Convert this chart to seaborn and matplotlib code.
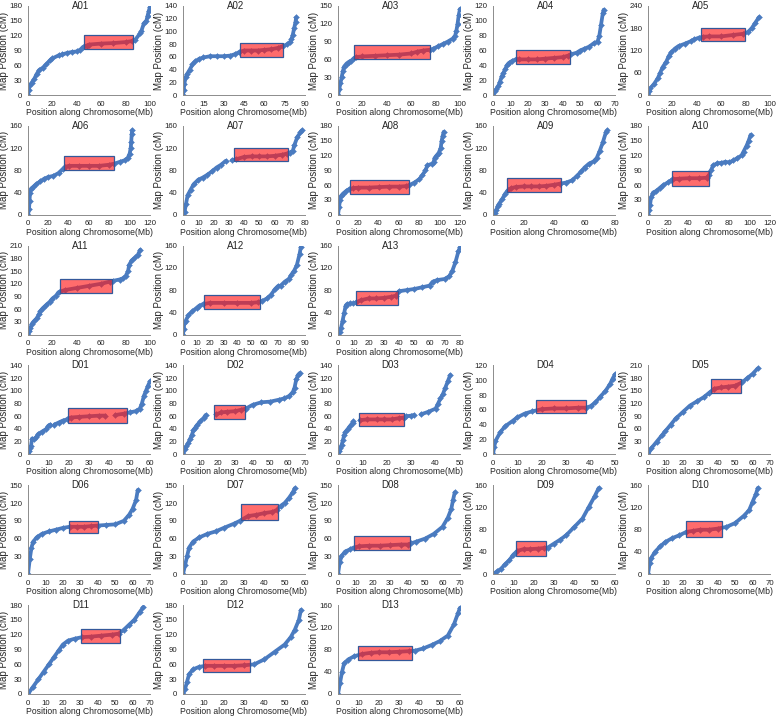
import numpy as np
import matplotlib
matplotlib.use("Agg")
import matplotlib.pyplot as plt
import matplotlib.patches as mpatches
import seaborn as sns

# 每个染色体的名称和坐标轴范围
names = ["A01", "A02", "A03", "A04", "A05", "A06", "A07", "A08", "A09", "A10", "A11", "A12", "A13",
         "D01", "D02", "D03", "D04", "D05", "D06", "D07", "D08", "D09", "D10", "D11", "D12", "D13"]
x_max = [100, 90, 100, 70, 100, 120, 80, 120, 80, 120, 100, 90, 80,
         60, 70, 50, 50, 70, 70, 60, 70, 60, 70, 70, 60, 60]
x_step = [20, 15, 20, 10, 20, 20, 10, 20, 20, 20, 20, 10, 10,
          10, 10, 10, 10, 10, 10, 10, 10, 10, 10, 10, 10, 10]
y_max = [180, 140, 150, 120, 240, 160, 160, 180, 160, 180, 210, 160, 160,
         140, 140, 140, 120, 210, 150, 150, 150, 160, 160, 180, 180, 160]
y_step = [30, 20, 30, 20, 60, 40, 40, 30, 40, 30, 30, 40, 40,
          20, 20, 20, 20, 30, 30, 30, 30, 40, 40, 30, 30, 40]

# 着丝粒区域 (Mb, cM)
rect_x0 = [46, 41.7, 12.9, 13.4, 43.8, 35.2, 33.4, 11.8, 9.2, 23.7, 25.9, 15.3, 12.1,
           19.6, 17.7, 8.6, 17.8, 36.2, 23.6, 28.6, 9.2, 11.2, 21.8, 30.5, 9.9, 9.9]
rect_x1 = [85.7, 73.5, 75.3, 44.4, 79.5, 84.9, 68.9, 69.6, 44.4, 59.9, 68.9, 57.1, 39.5,
           48.9, 35.5, 27.1, 38.0, 53.4, 40.2, 46.8, 41.4, 25.9, 42.5, 52.9, 33.0, 36.5]
rect_y0 = [94, 59.5, 60, 41.3, 145.6, 79.7, 96, 41.4, 40.8, 58.4, 97.5, 46.5, 53.1,
           49.8, 55.1, 44.5, 56, 145, 70, 92, 41, 32, 66.5, 103, 44.5, 61]
rect_y1 = [122, 81.6, 83.7, 60.2, 181.6, 105, 120.4, 71.3, 65.7, 88.3, 130.7, 70.7, 78.5,
           72.6, 77.9, 65.8, 73.7, 178.7, 90, 119, 65, 59, 95, 131.6, 71, 86]

# 遗传图位置 vs 物理位置 (None 表示断开)
A01_x = [0, 0.5, 1, 3, 5, 7, 9, 12, 15, 18, 20, 25, 28, 32, 36, 40, 43, 45, 48, 50, 60, 70, 80, 85, 88, 92, 93, 95, 97, 98, 99, 100]
A01_y = [0, 10, 18, 25, 32, 42, 50, 55, 62, 70, 74, 80, 82, 85, 87, 88, 92, 97, 100, 102, 104, 105, 107, 109, 112, 125, 130, 145, 150, 160, 170, 178]
A02_x = [0, 0.5, 1, 2, 3, 5, 7, 9, 12, 15, 20, 25, 30, 35, 38, 41, 45, 50, 55, 60, 65, 70, 74, 77, 79, 80, 81, 82, 83, 83.5]
A02_y = [0, 8, 18, 28, 33, 40, 48, 53, 57, 59, 61, 61, 61, 62, 64, 67, 70, 70, 70, 71, 72, 74, 77, 80, 83, 88, 95, 105, 115, 122]
A03_x = [0, 1, 2, 3, 4, 5, 7, 9, 11, 13, 15, 20, 30, 40, 50, 60, 65, 70, 75, 78, 82, 86, 90, 94, 96, 97, 98, 99, 100]
A03_y = [0, 10, 20, 30, 40, 48, 53, 56, 58, 62, 64, 65, 66, 67, 68, 70, 73, 75, 76, 78, 82, 86, 90, 95, 100, 108, 120, 135, 145]
A04_x = [0, 1, 2, 3, 4, 5, 6, 7, 8, 9, 11, 13, 15, 20, 25, 30, 35, 40, 43, 45, 48, 50, 52, 55, 58, 60, 61, 62, 63, 63.5]
A04_y = [0, 5, 8, 12, 18, 25, 30, 35, 40, 43, 46, 48, 48, 48, 48, 49, 50, 51, 53, 55, 57, 60, 62, 65, 70, 72, 80, 95, 110, 115]
A05_x = [0, 1, 2, 5, 8, 10, 12, 15, 17, 19, 22, 25, 30, 35, 38, 42, 45, 50, 60, 70, 78, 82, 85, 88, 91]
A05_y = [0, 10, 18, 30, 45, 60, 75, 90, 105, 115, 125, 132, 138, 145, 150, 155, 157, 158, 158, 162, 165, 170, 180, 195, 210]
A06_x = [0, 1, 1.5, 2, 3, 5, 8, 12, 16, 20, 25, 30, 34, 36, 40, 50, 60, 70, 80, 85, 90, 95, 98, 100, 101, 101.5, 102, 102.5]
A06_y = [0, 10, 25, 40, 47, 50, 55, 60, 65, 68, 70, 75, 82, 86, 88, 88, 88, 88, 90, 92, 95, 98, 102, 110, 120, 130, 145, 152]
A07_x = [0, 1, 2, 3, 5, 7, 10, 13, 16, 19, 22, 25, 28, None, 32, 35, 40, 45, 50, 55, 60, 65, 68, 70, 72, 73, 75, 77, 78]
A07_y = [0, 5, 20, 35, 45, 55, 63, 67, 72, 78, 85, 90, 97, None, 98, 100, 104, 105, 105, 105, 106, 108, 110, 112, 115, 125, 140, 148, 152]
A08_x = [0, 1, 2, 3, 5, 8, 11, 15, 20, 30, 40, 50, 60, 67, 70, 75, 80, 83, 86, 88, 92, 94, 95, 97, 99, 101, 102, 103, 104]
A08_y = [0, 15, 30, 38, 43, 48, 52, 54, 55, 55, 56, 57, 57, 58, 60, 65, 72, 80, 90, 100, 103, 106, 115, 120, 125, 135, 150, 160, 168]
A09_x = [0, 1, 2, 3, 4, 6, 8, 10, 12, 15, 20, 25, 30, 35, 40, 44, 48, 52, 55, 58, 60, 63, 66, 68, 70, 72, 74, 75]
A09_y = [0, 3, 8, 15, 20, 28, 38, 45, 48, 50, 51, 51, 51, 52, 54, 56, 58, 62, 70, 78, 85, 92, 96, 102, 115, 130, 148, 152]
A10_x = [0, 1, 2, 3, 5, 8, 12, 15, 20, 23, 25, 30, 40, 50, 58, 60, 62, 64, 68, 72, 76, 80, 84, 88, 92, 94, 97, 99, 101]
A10_y = [0, 10, 20, 35, 45, 48, 55, 60, 66, 70, 72, 73, 74, 74, 75, 80, 90, 100, 104, 105, 107, 106, 110, 115, 120, 128, 140, 150, 162]
A11_x = [0, 1, 2, 3, 5, 7, 9, 10, 12, 15, 18, 20, 23, 25, 30, 40, 50, 60, 67, 70, 75, 78, 80, 82, 83, 85, 88, 90, 92]
A11_y = [0, 8, 15, 25, 32, 38, 48, 55, 62, 70, 78, 85, 92, 100, 105, 110, 115, 120, 125, 127, 130, 133, 138, 150, 165, 175, 182, 188, 200]
A12_x = [0, 0.5, 1, 2, 4, 7, 10, 12, 15, 20, 30, 40, 50, 55, 58, 62, 65, 68, 70, 72, 75, 78, 80, 82, 84, 86, 87]
A12_y = [0, 10, 20, 25, 35, 42, 48, 52, 55, 57, 57, 57, 57, 58, 60, 65, 72, 82, 87, 88, 95, 100, 108, 115, 125, 145, 158]
A13_x = [0, 1, 2, 3, 4, 5, 6, 8, 10, 12, 15, 20, 25, 30, 35, 38, 40, 45, 50, 55, 60, 62, 65, 70, 73, 75, 77, 79, 80]
A13_y = [0, 5, 12, 25, 38, 52, 55, 56, 56, 58, 62, 65, 65, 66, 68, 70, 78, 80, 82, 85, 88, 95, 98, 100, 105, 115, 130, 150, 157]
D01_x = [0, 0.5, 1, 1.5, 2, 3, 4, 5, 7, 9, 10, 11, None, 13, 15, 17, 19, 21, 25, 30, 35, 38, None, 43, 47, 50, 53, 55, 56, 57, 58, 59, 60]
D01_y = [0, 5, 10, 14, 25, 24, 27, 32, 36, 40, 45, 47, None, 47, 50, 53, 55, 58, 59, 60, 61, 61, None, 62, 64, 66, 68, 72, 80, 92, 100, 108, 115]
D02_x = [0, 1, 2, 3, 4, 5, 6, 7, 8, 10, 12, 13, None, 19, 22, 25, 30, 33, 36, 40, 45, 50, 55, 58, 61, 63, 64, 65, 66, 67]
D02_y = [0, 8, 13, 18, 24, 30, 38, 42, 46, 52, 58, 62, None, 63, 66, 67, 68, 70, 72, 78, 82, 83, 86, 88, 92, 98, 105, 118, 125, 128]
D03_x = [0, 0.5, 1, 1.5, 2, 2.5, 3, 4, 5, 6, 6.3, None, 9, 12, 16, 19, 22, 25, 27, 28, 30, 31, None, 34, 37, 40, 41, 42, 43, 44, 45, 46]
D03_y = [0, 5, 10, 15, 22, 30, 35, 40, 45, 50, 52, None, 54, 55, 55, 55, 55, 57, 58, 60, 61, 62, None, 63, 67, 72, 80, 88, 95, 105, 115, 125]
D04_x = [0, 0.5, 1, 3, 5, 8, 10, 13, 16, 20, 25, 30, 35, 38, 40, 42, 44, 46, 48, 49, 50]
D04_y = [0, 10, 18, 30, 38, 45, 50, 55, 58, 61, 62, 62, 63, 63, 65, 70, 78, 85, 95, 102, 108]
D05_x = [0, 2, 5, 8, 10, 13, 16, 20, 24, 28, 32, 35, 38, 42, 46, 50, 54, 57, 60, 63]
D05_y = [0, 15, 30, 45, 55, 70, 85, 100, 115, 125, 135, 145, 155, 158, 160, 162, 170, 180, 190, 203]
D06_x = [0, 1, 2, 3, 5, 8, 12, 16, 20, 24, 28, 32, 36, 40, 45, 50, 55, 58, 60, 62, 63]
D06_y = [0, 25, 45, 55, 62, 68, 72, 75, 78, 80, 80, 80, 81, 82, 83, 84, 90, 100, 110, 125, 142]
D07_x = [0, 1, 2, 3, 5, 8, 12, 16, 20, 25, 28, 32, 36, 40, 44, 46, 48, 50, 52, 54, 55]
D07_y = [0, 15, 30, 45, 55, 62, 68, 72, 78, 85, 90, 98, 100, 103, 105, 108, 115, 120, 128, 138, 145]
D08_x = [0, 1, 2, 4, 7, 9, 12, 18, 24, 30, 36, 40, 42, 45, 50, 55, 60, 63, 65, 66, 67]
D08_y = [0, 20, 30, 38, 42, 45, 47, 48, 48, 49, 50, 50, 52, 55, 60, 68, 80, 95, 110, 125, 138]
D09_x = [0, 2, 4, 6, 8, 10, 12, 15, 18, 22, 25, 27, 30, 33, 36, 40, 44, 47, 50, 52]
D09_y = [0, 5, 10, 18, 25, 35, 42, 45, 45, 46, 47, 48, 55, 62, 70, 85, 100, 120, 140, 155]
D10_x = [0, 1, 2, 4, 7, 10, 14, 18, 22, 26, 30, 35, 40, 45, 50, 55, 58, 60, 62, 63]
D10_y = [0, 20, 30, 40, 50, 58, 65, 70, 76, 78, 80, 80, 82, 85, 92, 105, 115, 130, 145, 155]
D11_x = [0, 3, 6, 9, 12, 15, 18, 20, 23, 27, 31, 36, 42, 48, 52, 55, 58, 61, 64, 66]
D11_y = [0, 15, 30, 45, 60, 75, 90, 100, 108, 112, 115, 116, 118, 120, 122, 130, 140, 150, 165, 175]
D12_x = [0, 1, 2, 3, 5, 8, 11, 15, 20, 25, 30, 35, 40, 45, 50, 53, 55, 57, 58]
D12_y = [0, 10, 25, 40, 50, 55, 57, 57, 57, 57, 58, 60, 70, 85, 100, 115, 130, 150, 170]
D13_x = [0, 1, 2, 3, 5, 8, 12, 16, 20, 25, 30, 35, 38, 42, 46, 50, 54, 57, 59, 60]
D13_y = [0, 20, 40, 55, 62, 68, 72, 74, 75, 75, 76, 77, 78, 82, 88, 95, 105, 125, 145, 155]

curves_x = [A01_x, A02_x, A03_x, A04_x, A05_x, A06_x, A07_x, A08_x, A09_x, A10_x, A11_x, A12_x, A13_x,
            D01_x, D02_x, D03_x, D04_x, D05_x, D06_x, D07_x, D08_x, D09_x, D10_x, D11_x, D12_x, D13_x]
curves_y = [A01_y, A02_y, A03_y, A04_y, A05_y, A06_y, A07_y, A08_y, A09_y, A10_y, A11_y, A12_y, A13_y,
            D01_y, D02_y, D03_y, D04_y, D05_y, D06_y, D07_y, D08_y, D09_y, D10_y, D11_y, D12_y, D13_y]

# 网格中每个面板的 (行, 列)
grid_pos = [(0, c) for c in range(5)] + [(1, c) for c in range(5)] + [(2, c) for c in range(3)] + \
           [(3, c) for c in range(5)] + [(4, c) for c in range(5)] + [(5, c) for c in range(3)]

sns.set_style("white")
plt.rcParams['font.family'] = ['Liberation Sans', 'DejaVu Sans']

W, H = 778, 716
fig = plt.figure(figsize=(W / 100, H / 100), dpi=100)

blue = "#4a7bc0"
axis_gray = "#8c8c8c"

for i, name in enumerate(names):
    row, col = grid_pos[i]
    left_px = 28 + 155 * col
    bottom_px = 95 + 119.8 * row
    ax = fig.add_axes([left_px / W, 1 - bottom_px / H, 122 / W, 89 / H])

    xs = np.array([np.nan if v is None else v for v in curves_x[i]], dtype=float)
    ys = np.array([np.nan if v is None else v for v in curves_y[i]], dtype=float)

    ax.plot(xs, ys, color=blue, lw=2.7, solid_capstyle='round', zorder=2)
    sns.scatterplot(x=xs, y=ys, ax=ax, color=blue, marker='D', s=9,
                    edgecolor=blue, linewidth=0.3, zorder=2, legend=False)

    # 着丝粒区域方框
    w = rect_x1[i] - rect_x0[i]
    h = rect_y1[i] - rect_y0[i]
    ax.add_patch(mpatches.Rectangle((rect_x0[i], rect_y0[i]), w, h, facecolor="#ff1a1a",
                                    alpha=0.64, edgecolor='none', zorder=3))
    ax.add_patch(mpatches.Rectangle((rect_x0[i], rect_y0[i]), w, h, facecolor='none',
                                    edgecolor="#34589a", lw=0.9, zorder=4))

    ax.set_xlim(0, x_max[i])
    ax.set_ylim(0, y_max[i])
    ax.set_xticks(np.arange(0, x_max[i] + 0.1, x_step[i]))
    ax.set_yticks(np.arange(0, y_max[i] + 0.1, y_step[i]))

    for s in ['top', 'right']:
        ax.spines[s].set_visible(False)
    for s in ['left', 'bottom']:
        ax.spines[s].set_color(axis_gray)
        ax.spines[s].set_linewidth(0.7)
    ax.tick_params(direction='out', length=2.5, width=0.6, color=axis_gray,
                   labelsize=5.6, pad=1.5, labelcolor='#222222')
    ax.grid(False)

    ax.set_xlabel("Position along Chromosome(Mb)", fontsize=6.2, labelpad=0.3)
    ax.set_ylabel("Map Position (cM)", fontsize=7, labelpad=0.3)
    ax.text(0.43, 1.0, name, transform=ax.transAxes, ha='center', va='center', fontsize=7)

fig.savefig("out.png", dpi=100)
